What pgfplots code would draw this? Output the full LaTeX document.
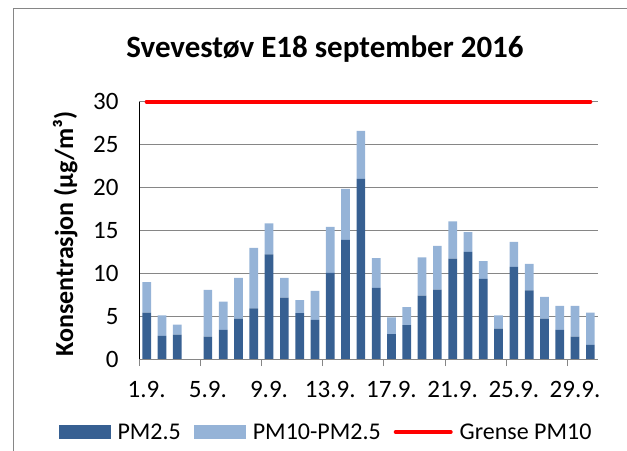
\documentclass[border=0pt]{standalone}
\usepackage{fontspec}
\setmainfont{Carlito}
\usepackage{pgfplots}
\pgfplotsset{compat=1.18}
\definecolor{darkb}{RGB}{55,96,146}
\definecolor{lightb}{RGB}{149,179,215}
\definecolor{gridg}{RGB}{134,134,134}
\begin{document}
\begin{tikzpicture}
\path[use as bounding box] (0bp,0bp) rectangle (627bp,451bp);
\draw[gridg, line width=1bp] (13bp,0bp) -- (13bp,442.5bp) -- (627bp,442.5bp);
\begin{axis}[
 at={(139bp,92bp)}, anchor=south west,
 scale only axis, width=459bp, height=257.3bp,
 xmin=0.5, xmax=30.5, ymin=0, ymax=30,
 ybar stacked, bar width=8.7bp,
 axis x line*=bottom, axis y line*=left,
 x axis line style={gridg, line width=1bp, -},
 y axis line style={black, line width=1bp, -},
 xtick={1,5,...,29},
 xticklabels={1.9.,5.9.,9.9.,13.9.,17.9.,21.9.,25.9.,29.9.},
 minor xtick={0.5,4.5,...,28.5},
 major tick length=0pt,
 minor tick length=7bp,
 tick align=outside,
 minor x tick style={gridg, line width=1bp},
 ytick={0,5,...,30},
 ymajorgrids,
 major grid style={gridg, line width=1bp},
 /pgf/number format/assume math mode=true,
 ticklabel style={font=\fontsize{25bp}{30bp}\selectfont},
 xticklabel style={yshift=-19bp},
 yticklabel style={xshift=-17bp},
 ylabel={Konsentrasjon (µg/m³)},
 ylabel style={font=\fontsize{26bp}{31bp}\selectfont\bfseries, at={(axis description cs:-0.161,0.486)}, anchor=center},
 title={Svevestøv E18 september 2016},
 title style={font=\fontsize{31bp}{37bp}\selectfont\bfseries, at={(axis description cs:0.4052,1.150)}, anchor=base},
 legend columns=3,
 legend style={draw=none, fill=none, font=\fontsize{24bp}{29bp}\selectfont,
   at={(axis description cs:0.4074,-0.2837)}, anchor=center,
   /tikz/every odd column/.append style={column sep=5bp},
   /tikz/every even column/.append style={column sep=11bp}},
]
\addplot[fill=darkb, draw=none, legend image code/.code={\fill[darkb] (0bp,-7bp) rectangle (52bp,7bp);}] coordinates {
(1,5.4) (2,2.7) (3,2.85) (5,2.6) (6,3.4) (7,4.7) (8,5.9) (9,12.2) (10,7.15)
(11,5.35) (12,4.55) (13,10.05) (14,13.9) (15,21.0) (16,8.3) (17,2.9) (18,3.95)
(19,7.4) (20,8.1) (21,11.7) (22,12.5) (23,9.35) (24,3.55) (25,10.75) (26,8.0)
(27,4.7) (28,3.4) (29,2.6) (30,1.65)};
\addlegendentry{PM2.5}
\addplot[fill=lightb, draw=none, legend image code/.code={\fill[lightb] (0bp,-7bp) rectangle (52bp,7bp);}] coordinates {
(1,3.55) (2,2.4) (3,1.15) (5,5.45) (6,3.3) (7,4.75) (8,7.05) (9,3.6) (10,2.3)
(11,1.5) (12,3.4) (13,5.35) (14,5.95) (15,5.6) (16,3.45) (17,1.95) (18,2.1)
(19,4.45) (20,5.1) (21,4.35) (22,2.3) (23,2.05) (24,1.55) (25,2.9) (26,3.1)
(27,2.55) (28,2.8) (29,3.6) (30,3.75)};
\addlegendentry{PM10-PM2.5}
\addlegendimage{legend image code/.code={\draw[red, line width=4bp, line cap=round] (0bp,0bp) -- (55bp,0bp);}}
\addlegendentry{Grense PM10}
\end{axis}
\begin{axis}[
 at={(139bp,92bp)}, anchor=south west,
 scale only axis, width=459bp, height=257.3bp,
 xmin=0.5, xmax=30.5, ymin=0, ymax=30,
 axis lines=none, clip=false,
]
\addplot[red, line width=4bp, line cap=round, mark=none] coordinates {(1,30) (30,30)};
\end{axis}
\end{tikzpicture}
\end{document}
